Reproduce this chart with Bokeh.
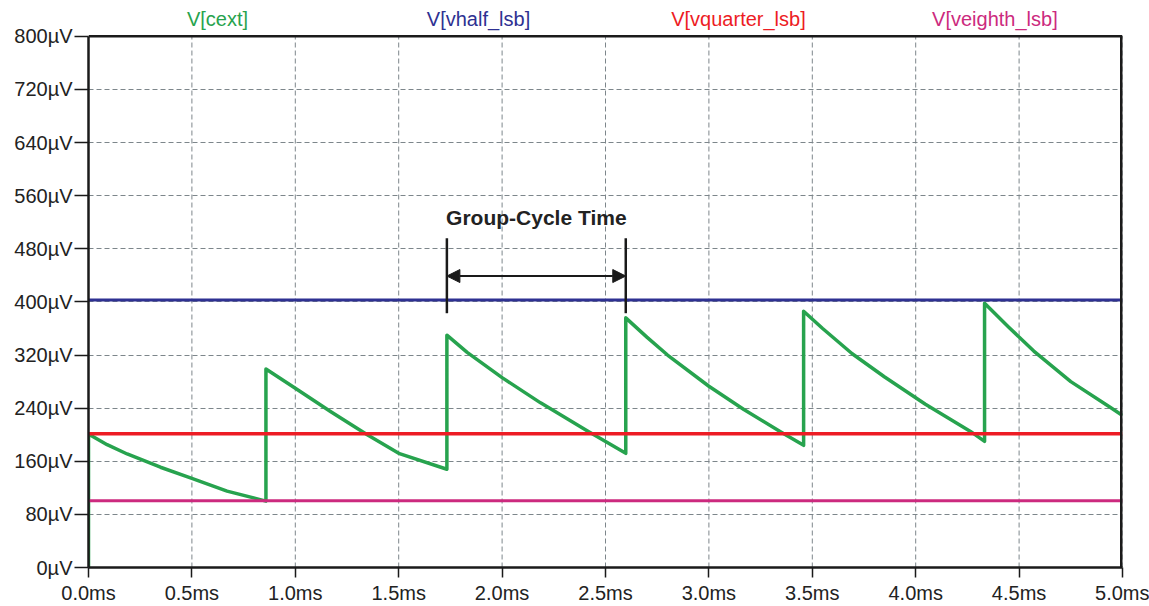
from bokeh.plotting import figure
from bokeh.models import Range1d, FixedTicker, Label, Arrow, NormalHead
from bokeh.embed import file_html
from bokeh.resources import INLINE

# ---- data (time in ms, voltage in µV) ----
t_cext = [0.0, 0.0, 0.09, 0.187, 0.348, 0.493, 0.67, 0.858,
          0.858, 1.0, 1.17, 1.348, 1.5, 1.733,
          1.733, 1.831, 2.0, 2.186, 2.411, 2.598,
          2.598, 2.70, 2.80, 3.0, 3.169, 3.354, 3.458,
          3.458, 3.55, 3.693, 3.85, 4.047, 4.265, 4.333,
          4.333, 4.45, 4.571, 4.75, 4.942, 5.0]
v_cext = [0, 201, 185, 171, 151, 135, 115, 100,
          299, 270, 235, 200, 172, 148,
          350, 324, 286, 248, 206, 172,
          376, 347, 320, 273, 238, 203, 184,
          386, 360, 322, 287, 246, 205, 190,
          398, 362, 326, 280, 241, 229]

t_span = [0.0, 5.0]
v_half_lsb = [402.8, 402.8]
v_quarter_lsb = [201.4, 201.4]
v_eighth_lsb = [100.7, 100.7]

series_names = ["V[cext]", "V[vhalf_lsb]", "V[vquarter_lsb]", "V[veighth_lsb]"]
series_colors = ["#27a34e", "#2e3192", "#ed1c24", "#cc2a7e"]
legend_x = [0.624, 1.886, 3.143, 4.383]

x_ticks = [0.0, 0.5, 1.0, 1.5, 2.0, 2.5, 3.0, 3.5, 4.0, 4.5, 5.0]
x_labels = ["0.0ms", "0.5ms", "1.0ms", "1.5ms", "2.0ms", "2.5ms",
            "3.0ms", "3.5ms", "4.0ms", "4.5ms", "5.0ms"]
y_ticks = [0, 80, 160, 240, 320, 400, 480, 560, 640, 720, 800]
y_labels = ["0µV", "80µV", "160µV", "240µV", "320µV", "400µV",
            "480µV", "560µV", "640µV", "720µV", "800µV"]

# annotation (group-cycle time between two recharge events)
gc_start = t_cext[13]
gc_end = t_cext[19]
gc_bar_lo, gc_bar_hi = 383, 496
gc_arrow_v = 439
gc_text_v = 527
gc_text = "Group-Cycle Time"

FONT = "Liberation Sans"
INK = "#1a1a1a"
y_min, y_max = y_ticks[0], y_ticks[-1]
x_min, x_max = x_ticks[0], x_ticks[-1]

p = figure(width=1149, height=606, output_backend="svg", toolbar_location=None,
           x_range=Range1d(x_min, x_max), y_range=Range1d(y_min, 848),
           min_border_left=88, min_border_right=27, min_border_top=4,
           min_border_bottom=38)
p.background_fill_color = "white"
p.border_fill_color = "white"
p.outline_line_color = None

for ax, ticks, labels in ((p.xaxis[0], x_ticks, x_labels), (p.yaxis[0], y_ticks, y_labels)):
    ax.ticker = FixedTicker(ticks=ticks)
    ax.major_label_overrides = {t: l for t, l in zip(ticks, labels)}
    ax.minor_tick_line_color = None
    ax.major_tick_in = 0
    ax.major_tick_line_color = INK
    ax.major_tick_line_width = 1.5
    ax.axis_line_color = INK
    ax.axis_line_width = 2.5
    ax.major_label_text_font = FONT
    ax.major_label_text_font_size = "20px"
    ax.major_label_text_color = "#222222"

p.yaxis[0].bounds = (y_min, y_max)
p.yaxis[0].major_tick_out = 14
p.yaxis[0].major_label_standoff = 2
p.xaxis[0].major_tick_out = 10
p.xaxis[0].major_label_standoff = 4

grid_color = "#7d868b"
p.xgrid.grid_line_color = None
p.ygrid.grid_line_color = grid_color
p.ygrid.grid_line_dash = "5 3"
p.ygrid.grid_line_width = 1
# vertical grid lines limited to the plotting box
p.segment(x0=x_ticks, y0=[y_min] * len(x_ticks), x1=x_ticks, y1=[y_max] * len(x_ticks),
          line_color=grid_color, line_dash="5 3", line_width=1)

# traces
p.line(t_cext, v_cext, line_color=series_colors[0], line_width=3.5, line_join="round")
p.line(t_span, v_half_lsb, line_color=series_colors[1], line_width=3)
p.line(t_span, v_quarter_lsb, line_color=series_colors[2], line_width=3.5)
p.line(t_span, v_eighth_lsb, line_color=series_colors[3], line_width=3)

# box top and right edges
p.segment(x0=[x_min], y0=[y_max], x1=[x_max], y1=[y_max], line_color=INK, line_width=2.5)
p.segment(x0=[x_max], y0=[y_min], x1=[x_max], y1=[y_max], line_color=INK, line_width=5)

# trace names above the box
for name, col, lx in zip(series_names, series_colors, legend_x):
    p.add_layout(Label(x=lx, y=825.5, text=name, text_align="center",
                       text_baseline="alphabetic", text_color=col,
                       text_font=FONT, text_font_size="20px"))

# group-cycle time annotation
p.segment(x0=[gc_start, gc_end], y0=[gc_bar_lo, gc_bar_lo],
          x1=[gc_start, gc_end], y1=[gc_bar_hi, gc_bar_hi],
          line_color=INK, line_width=2.5)
p.add_layout(Arrow(x_start=gc_start, y_start=gc_arrow_v, x_end=gc_end, y_end=gc_arrow_v,
                   line_color=INK, line_width=2,
                   start=NormalHead(size=13, fill_color=INK, line_color=INK),
                   end=NormalHead(size=13, fill_color=INK, line_color=INK)))
p.add_layout(Label(x=(gc_start + gc_end) / 2, y=gc_text_v, text=gc_text,
                   text_align="center", text_baseline="alphabetic",
                   text_color="#222222", text_font=FONT, text_font_size="21px",
                   text_font_style="bold"))

open("out.html", "w").write(file_html(p, INLINE))
